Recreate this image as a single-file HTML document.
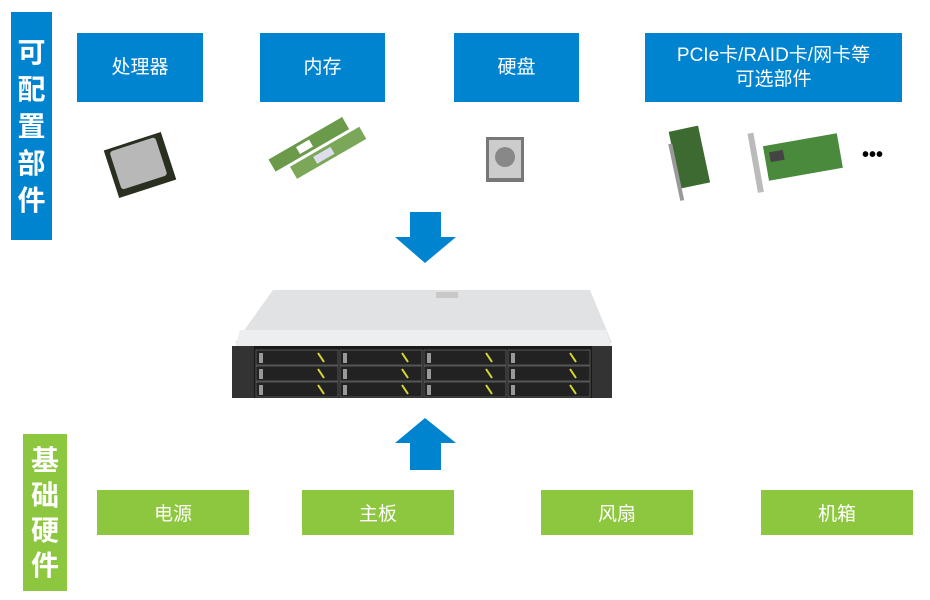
<!DOCTYPE html>
<html><head><meta charset="utf-8"><style>
body{margin:0;width:930px;height:600px;background:#fff;overflow:hidden;position:relative;font-family:"Liberation Sans","Noto Sans CJK SC",sans-serif}
.b{position:absolute;background:#0084cf;color:#fff;display:flex;align-items:center;justify-content:center;text-align:center;font-size:19px;line-height:24px}
.g{position:absolute;background:#8dc63f;color:#fff;display:flex;align-items:center;justify-content:center;font-size:19px}
.v{position:absolute;color:#fff;font-weight:bold;font-size:28px;text-align:center;display:flex;flex-direction:column;justify-content:center}
</style></head><body>
<div class="v" style="left:11px;top:12px;width:41px;height:228px;background:#0084cf;line-height:37px">可<br>配<br>置<br>部<br>件</div>
<div class="v" style="left:23px;top:434px;width:44px;height:157px;background:#8dc63f;line-height:35px">基<br>础<br>硬<br>件</div>
<div class="b" style="left:77px;top:33px;width:126px;height:69px">处理器</div>
<div class="b" style="left:260px;top:33px;width:125px;height:69px">内存</div>
<div class="b" style="left:454px;top:33px;width:125px;height:69px">硬盘</div>
<div class="b" style="left:645px;top:33px;width:257px;height:69px">PCIe卡/RAID卡/网卡等<br>可选部件</div>
<div class="g" style="left:97px;top:490px;width:152px;height:45px">电源</div>
<div class="g" style="left:302px;top:490px;width:152px;height:45px">主板</div>
<div class="g" style="left:541px;top:490px;width:152px;height:45px">风扇</div>
<div class="g" style="left:761px;top:490px;width:152px;height:45px">机箱</div>
<svg width="930" height="600" style="position:absolute;left:0;top:0">
<polygon points="410,212 441,212 441,237 456,237 425,263 395,237 410,237" fill="#0084cf"/>
<polygon points="425,418 456,443 441,443 441,470 410,470 410,443 395,443" fill="#0084cf"/>
<!-- CPU -->
<g transform="rotate(-18 140 165)"><rect x="110" y="140" width="60" height="50" fill="#2a3020"/><rect x="115" y="143" width="48" height="40" rx="3" fill="#b8b8b8"/></g>
<!-- RAM -->
<g transform="rotate(-30 315 150)"><rect x="270" y="135" width="85" height="14" fill="#6b9a4a"/><rect x="285" y="152" width="80" height="14" fill="#7aa858"/><rect x="300" y="138" width="15" height="8" fill="#fff"/><rect x="310" y="155" width="20" height="8" fill="#dde"/></g>
<!-- HDD -->
<rect x="486" y="137" width="38" height="45" fill="#777"/><rect x="489" y="140" width="32" height="38" fill="#ccc"/><circle cx="505" cy="157" r="10" fill="#888"/>
<!-- cards -->
<g transform="rotate(-12 690 160)"><rect x="675" y="128" width="30" height="58" fill="#3d6a30"/><rect x="672" y="140" width="4" height="58" fill="#999"/></g>
<g transform="rotate(-10 800 155)"><rect x="765" y="140" width="75" height="35" fill="#4a8a3c"/><rect x="752" y="125" width="6" height="60" fill="#bbb"/><rect x="770" y="147" width="14" height="10" fill="#444"/></g>
<text x="862" y="161" font-size="20" font-weight="bold" font-family="Liberation Sans">•••</text>
<!-- server -->
<polygon points="273,290 590,290 612,343 235,343" fill="#e0e2e4"/>
<polygon points="240,330 606,330 612,348 235,348" fill="#eceef0"/>
<rect x="436" y="292" width="22" height="6" fill="#c8c8c8"/>
<rect x="232" y="346" width="380" height="52" fill="#1a1a1a"/>
<rect x="232" y="346" width="22" height="52" fill="#333"/>
<rect x="592" y="346" width="20" height="52" fill="#333"/>
<g fill="#222" stroke="#555" stroke-width="1">
<rect x="256" y="350" width="82" height="15"/><rect x="340" y="350" width="82" height="15"/><rect x="424" y="350" width="82" height="15"/><rect x="508" y="350" width="82" height="15"/>
<rect x="256" y="366" width="82" height="15"/><rect x="340" y="366" width="82" height="15"/><rect x="424" y="366" width="82" height="15"/><rect x="508" y="366" width="82" height="15"/>
<rect x="256" y="382" width="82" height="15"/><rect x="340" y="382" width="82" height="15"/><rect x="424" y="382" width="82" height="15"/><rect x="508" y="382" width="82" height="15"/>
</g>
<g stroke="#d8d830" stroke-width="2">
<line x1="318" y1="353" x2="324" y2="362"/><line x1="402" y1="353" x2="408" y2="362"/><line x1="486" y1="353" x2="492" y2="362"/><line x1="570" y1="353" x2="576" y2="362"/>
<line x1="318" y1="369" x2="324" y2="378"/><line x1="402" y1="369" x2="408" y2="378"/><line x1="486" y1="369" x2="492" y2="378"/><line x1="570" y1="369" x2="576" y2="378"/>
<line x1="318" y1="385" x2="324" y2="394"/><line x1="402" y1="385" x2="408" y2="394"/><line x1="486" y1="385" x2="492" y2="394"/><line x1="570" y1="385" x2="576" y2="394"/>
</g>
<g fill="#999"><rect x="259" y="353" width="4" height="10"/><rect x="343" y="353" width="4" height="10"/><rect x="427" y="353" width="4" height="10"/><rect x="511" y="353" width="4" height="10"/>
<rect x="259" y="369" width="4" height="10"/><rect x="343" y="369" width="4" height="10"/><rect x="427" y="369" width="4" height="10"/><rect x="511" y="369" width="4" height="10"/>
<rect x="259" y="385" width="4" height="10"/><rect x="343" y="385" width="4" height="10"/><rect x="427" y="385" width="4" height="10"/><rect x="511" y="385" width="4" height="10"/></g>
</svg>
</body></html>
